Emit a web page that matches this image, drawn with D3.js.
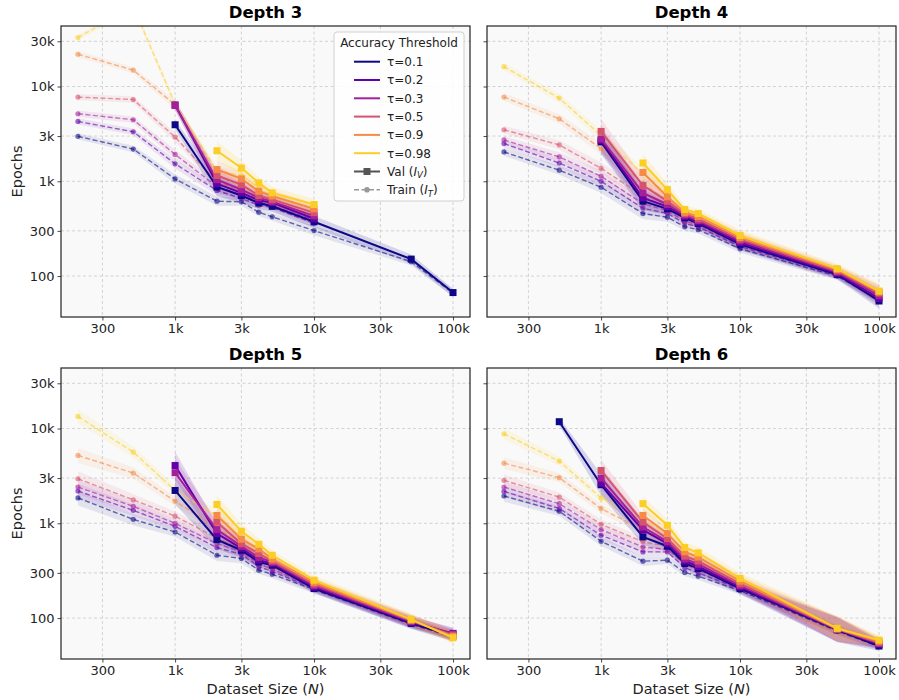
<!DOCTYPE html>
<html>
<head>
<meta charset="utf-8">
<script src="https://cdn.jsdelivr.net/npm/d3@7"></script>
<style>
  body { margin: 0; background: #fff; }
  svg { font-family: 'DejaVu Sans', sans-serif; }
</style>
</head>
<body>
<div id="chart"></div>
<script>
// dataset sizes (x) shared by all panels
var sizes = [200, 500, 1000, 2000, 3000, 4000, 5000, 10000, 50000, 100000];
var taus = ['0.1', '0.2', '0.3', '0.5', '0.9', '0.98'];
var xTicks = [300, 1000, 3000, 10000, 30000, 100000];
var xTickLabels = ['300', '1k', '3k', '10k', '30k', '100k'];
var yTicks = [100, 300, 1000, 3000, 10000, 30000];
var yTickLabels = ['100', '300', '1k', '3k', '10k', '30k'];
var depths = ['Depth 3', 'Depth 4', 'Depth 5', 'Depth 6'];

// epochs, one row per tau (null = no point)
var val3 = [
  [null, null, 3950, 871, 708, 590, 545, 374, 151, 67],
  [null, null, 6400, 946, 755, 631, 595, 402, null, null],
  [null, null, 6300, 1040, 818, 672, 610, 432, null, null],
  [null, null, null, 1150, 922, 708, 641, 467, null, null],
  [null, null, null, 1330, 1060, 785, 700, 512, null, null],
  [null, null, null, 2100, 1380, 962, 755, 569, null, null]
];
var train3 = [
  [2980, 2190, 1060, 617, 607, 472, 422, 302, 142, 66],
  [4280, 3330, 1530, 800, 660, 560, 530, 360, null, null],
  [5160, 4460, 1920, 880, 720, 600, 555, 390, null, null],
  [7730, 7290, 2930, 980, 800, 640, 580, 420, null, null],
  [21900, 14900, 6400, 1150, 920, 700, 630, 460, null, null],
  [32800, 70000, 6500, 1300, 1150, 850, 690, 520, null, null]
];
var val4 = [
  [null, null, 2600, 617, 512, 411, 359, 216, 104, 54.6],
  [null, null, 2700, 669, 540, 425, 372, 225, 107, 58],
  [null, null, 2800, 755, 569, 440, 385, 235, 110, 62],
  [null, null, 3360, 902, 617, 455, 400, 245, 113, 66],
  [null, null, null, 1240, 685, 470, 425, 255, 117, 68],
  [null, null, null, 1560, 818, 503, 457, 268, 120, 69.5]
];
var train4 = [
  [2040, 1310, 865, 457, 418, 331, 309, 194, 100, 56],
  [2500, 1560, 1000, 520, 460, 360, 330, 205, 103, 58],
  [2730, 1810, 1130, 580, 490, 380, 345, 212, 105, 60],
  [3500, 2420, 1370, 700, 540, 400, 360, 220, 108, 63],
  [7730, 4570, 2210, 950, 620, 430, 385, 232, 112, 66],
  [16200, 7550, 3030, 1200, 720, 460, 410, 245, 115, 68]
];
var val5 = [
  [null, null, 2220, 673, 520, 391, 361, 205, 88, 65],
  [null, null, 4070, 778, 545, 410, 375, 212, 90, 69],
  [null, null, 3420, 858, 573, 437, 390, 220, 92, 68],
  [null, null, null, 1030, 610, 480, 400, 228, 94, 66],
  [null, null, null, 1210, 679, 537, 420, 238, 95, 64],
  [null, null, null, 1580, 824, 601, 460, 251, 97, 62]
];
var train5 = [
  [1850, 1100, 809, 460, 425, 320, 290, 200, 86, 63],
  [2190, 1370, 930, 555, 470, 350, 310, 205, 88, 65],
  [2410, 1510, 1000, 610, 500, 370, 330, 210, 89, 65],
  [2950, 1770, 1190, 700, 540, 400, 350, 215, 91, 64],
  [5200, 3390, 1710, 900, 600, 450, 380, 225, 93, 63],
  [13400, 5640, 2220, 1200, 700, 500, 420, 238, 95, 62]
];
var val6 = [
  [null, 11800, 2550, 718, 573, 377, 334, 205, 75, 50.7],
  [null, null, 2650, 850, 610, 400, 350, 212, 76, 53],
  [null, null, 3000, 914, 640, 420, 370, 220, 76, 54],
  [null, null, 3610, 1030, 690, 450, 400, 230, 77, 55],
  [null, null, null, 1210, 780, 500, 440, 245, 77, 57],
  [null, null, null, 1610, 953, 555, 487, 262, 78, 58.6]
];
var train6 = [
  [1940, 1340, 646, 398, 408, 303, 277, 195, 73, 50],
  [2170, 1430, 748, 499, 499, 340, 300, 202, 74, 52],
  [2410, 1610, 858, 562, 530, 370, 320, 210, 75, 53],
  [2840, 1890, 977, 640, 570, 400, 350, 220, 76, 55],
  [4310, 3030, 1430, 850, 650, 450, 390, 232, 76, 56],
  [8800, 4530, 1850, 1100, 760, 500, 430, 248, 77, 57]
];
// band half-width (multiplicative) at each dataset size
var valSpread3 = [1.1, 1.1, 1.12, 1.25, 1.2, 1.15, 1.15, 1.15, 1.12, 1.1];
var trainSpread3 = [1.08, 1.08, 1.12, 1.12, 1.1, 1.1, 1.1, 1.12, 1.1, 1.1];
var valSpread4 = [1.1, 1.1, 1.35, 1.25, 1.15, 1.12, 1.12, 1.15, 1.12, 1.2];
var trainSpread4 = [1.1, 1.12, 1.15, 1.15, 1.12, 1.1, 1.1, 1.1, 1.1, 1.1];
var valSpread5 = [1.1, 1.1, 1.4, 1.25, 1.2, 1.15, 1.12, 1.12, 1.15, 1.15];
var trainSpread5 = [1.2, 1.15, 1.12, 1.15, 1.12, 1.1, 1.1, 1.1, 1.1, 1.1];
var valSpread6 = [1.1, 1.1, 1.3, 1.2, 1.15, 1.15, 1.15, 1.15, 1.35, 1.12];
var trainSpread6 = [1.15, 1.12, 1.12, 1.12, 1.1, 1.1, 1.1, 1.1, 1.1, 1.1];

var valAll = [val3, val4, val5, val6];
var trainAll = [train3, train4, train5, train6];
var valSpreadAll = [valSpread3, valSpread4, valSpread5, valSpread6];
var trainSpreadAll = [trainSpread3, trainSpread4, trainSpread5, trainSpread6];

var colors = [0, 0.18, 0.36, 0.54, 0.72, 0.9].map(function (t) { return d3.interpolatePlasma(t); });

var width = 899, height = 700;
var pw = 409, ph = 291;
var origins = [[61, 26], [487, 26], [61, 368], [487, 368]];

var svg = d3.select('#chart').append('svg')
  .attr('width', width).attr('height', height);

var x = d3.scaleLog().domain([151, 132500]).range([0, pw]);
var y = d3.scaleLog().domain([37, 43500]).range([ph, 0]);

function pts(row) {
  var out = [];
  row.forEach(function (v, i) { if (v != null) out.push({ x: sizes[i], y: v, i: i }); });
  return out;
}

var line = d3.line().x(function (d) { return x(d.x); }).y(function (d) { return y(d.y); });

depths.forEach(function (name, p) {
  var g = svg.append('g').attr('transform', 'translate(' + origins[p][0] + ',' + origins[p][1] + ')');

  g.append('rect').attr('width', pw).attr('height', ph).attr('fill', '#f9f9f9');

  g.append('clipPath').attr('id', 'clip' + p)
    .append('rect').attr('width', pw).attr('height', ph);

  // grid
  g.selectAll('.gx').data(xTicks).enter().append('line')
    .attr('x1', function (d) { return x(d); }).attr('x2', function (d) { return x(d); })
    .attr('y1', 0).attr('y2', ph)
    .attr('stroke', '#c8c8c8').attr('stroke-width', 0.8).attr('stroke-dasharray', '3,2.5');
  g.selectAll('.gy').data(yTicks).enter().append('line')
    .attr('y1', function (d) { return y(d); }).attr('y2', function (d) { return y(d); })
    .attr('x1', 0).attr('x2', pw)
    .attr('stroke', '#c8c8c8').attr('stroke-width', 0.8).attr('stroke-dasharray', '3,2.5');

  var plot = g.append('g').attr('clip-path', 'url(#clip' + p + ')');
  var vs = valSpreadAll[p], ts = trainSpreadAll[p];

  function band(s) {
    return d3.area()
      .x(function (d) { return x(d.x); })
      .y0(function (d) { return y(d.y / s[d.i]); })
      .y1(function (d) { return y(d.y * s[d.i]); });
  }

  // bands
  trainAll[p].forEach(function (row, k) {
    plot.append('path').datum(pts(row)).attr('d', band(ts))
      .attr('fill', colors[k]).attr('fill-opacity', 0.09);
  });
  valAll[p].forEach(function (row, k) {
    plot.append('path').datum(pts(row)).attr('d', band(vs))
      .attr('fill', colors[k]).attr('fill-opacity', 0.15);
  });

  // train lines
  trainAll[p].forEach(function (row, k) {
    var d = pts(row);
    plot.append('path').datum(d).attr('d', line)
      .attr('fill', 'none').attr('stroke', colors[k]).attr('stroke-opacity', 0.6)
      .attr('stroke-width', 1.4).attr('stroke-dasharray', '5,2.5');
    plot.selectAll(null).data(d).enter().append('circle')
      .attr('cx', function (e) { return x(e.x); }).attr('cy', function (e) { return y(e.y); })
      .attr('r', 2.6).attr('fill', colors[k]).attr('fill-opacity', 0.6);
  });

  // val lines
  valAll[p].forEach(function (row, k) {
    var d = pts(row);
    plot.append('path').datum(d).attr('d', line)
      .attr('fill', 'none').attr('stroke', colors[k]).attr('stroke-width', 2);
    plot.selectAll(null).data(d).enter().append('rect')
      .attr('x', function (e) { return x(e.x) - 3.5; }).attr('y', function (e) { return y(e.y) - 3.5; })
      .attr('width', 7).attr('height', 7).attr('fill', colors[k]);
  });

  // axes
  var xAxis = d3.axisBottom(x).tickValues(xTicks).tickSizeOuter(0).tickSize(3.5).tickPadding(3)
    .tickFormat(function (d, i) { return xTickLabels[i]; });
  var yAxis = d3.axisLeft(y).tickValues(yTicks).tickSizeOuter(0).tickSize(3.5).tickPadding(3)
    .tickFormat(function (d, i) { return p % 2 === 0 ? yTickLabels[i] : ''; });

  var gx = g.append('g').attr('transform', 'translate(0,' + ph + ')').call(xAxis);
  var gy = g.append('g').call(yAxis);
  [gx, gy].forEach(function (a) {
    a.select('.domain').remove();
    a.selectAll('line').attr('stroke', '#333').attr('stroke-width', 0.9);
    a.selectAll('text').attr('font-size', 13).attr('fill', '#222')
      .attr('font-family', "'DejaVu Sans', sans-serif");
  });

  g.append('rect').attr('width', pw).attr('height', ph)
    .attr('fill', 'none').attr('stroke', '#222').attr('stroke-width', 1.2);

  g.append('text').attr('x', pw / 2).attr('y', -8).attr('text-anchor', 'middle')
    .attr('font-size', 16.5).attr('font-weight', 'bold').attr('fill', '#000').text(name);

  if (p % 2 === 0) {
    g.append('text').attr('transform', 'translate(-39,' + (ph / 2) + ') rotate(-90)')
      .attr('text-anchor', 'middle').attr('font-size', 14.5).attr('fill', '#222').text('Epochs');
  }
  if (p >= 2) {
    var xl = g.append('text').attr('x', pw / 2).attr('y', ph + 35).attr('text-anchor', 'middle')
      .attr('font-size', 14.5).attr('fill', '#222');
    xl.append('tspan').text('Dataset Size (');
    xl.append('tspan').attr('font-style', 'italic').text('N');
    xl.append('tspan').text(')');
  }
});

// legend (inside Depth 3 panel)
var lg = svg.append('g').attr('transform', 'translate(334,32)');
lg.append('rect').attr('width', 130).attr('height', 169).attr('rx', 3)
  .attr('fill', '#fff').attr('fill-opacity', 0.85).attr('stroke', '#d0d0d0');
lg.append('text').attr('x', 65).attr('y', 15).attr('text-anchor', 'middle')
  .attr('font-size', 12).attr('fill', '#222').text('Accuracy Threshold');

taus.forEach(function (t, k) {
  var yy = 29.7 + k * 18.3;
  lg.append('line').attr('x1', 20).attr('x2', 46).attr('y1', yy).attr('y2', yy)
    .attr('stroke', colors[k]).attr('stroke-width', 2);
  lg.append('text').attr('x', 53).attr('y', yy + 4.3).attr('font-size', 12).attr('fill', '#222')
    .text('\u03c4=' + t);
});

var yv = 29.7 + 6 * 18.3;
lg.append('line').attr('x1', 20).attr('x2', 46).attr('y1', yv).attr('y2', yv)
  .attr('stroke', '#555').attr('stroke-width', 2);
lg.append('rect').attr('x', 29.5).attr('y', yv - 3.5).attr('width', 7).attr('height', 7).attr('fill', '#555');
var tv = lg.append('text').attr('x', 53).attr('y', yv + 4.3).attr('font-size', 12).attr('fill', '#222');
tv.append('tspan').text('Val (');
tv.append('tspan').attr('font-style', 'italic').text('I');
tv.append('tspan').attr('font-style', 'italic').attr('font-size', 8.5).attr('dy', 2.5).text('V');
tv.append('tspan').attr('dy', -2.5).text(')');

var yt = 29.7 + 7 * 18.3;
lg.append('line').attr('x1', 20).attr('x2', 46).attr('y1', yt).attr('y2', yt)
  .attr('stroke', '#999').attr('stroke-width', 1.4).attr('stroke-dasharray', '5,2.5');
lg.append('circle').attr('cx', 33).attr('cy', yt).attr('r', 2.8).attr('fill', '#999');
var tt = lg.append('text').attr('x', 53).attr('y', yt + 4.3).attr('font-size', 12).attr('fill', '#222');
tt.append('tspan').text('Train (');
tt.append('tspan').attr('font-style', 'italic').text('I');
tt.append('tspan').attr('font-style', 'italic').attr('font-size', 8.5).attr('dy', 2.5).text('T');
tt.append('tspan').attr('dy', -2.5).text(')');
</script>
</body>
</html>
